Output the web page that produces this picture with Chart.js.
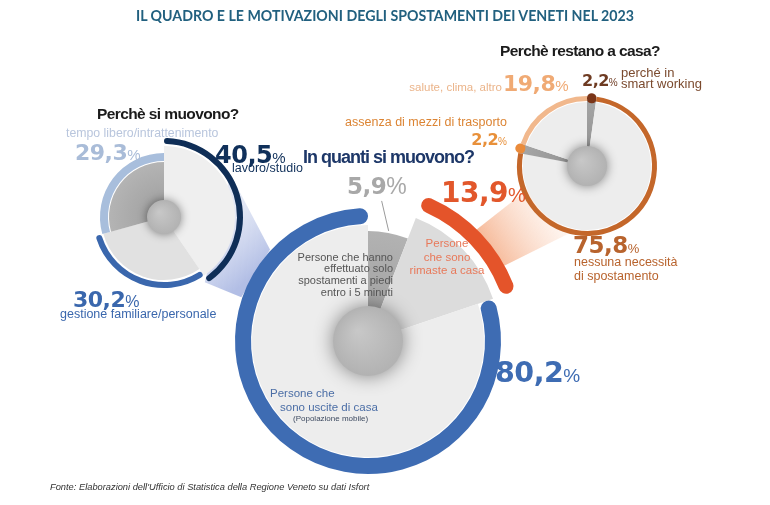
<!DOCTYPE html>
<html>
<head>
<meta charset="utf-8">
<script src="https://cdn.jsdelivr.net/npm/chart.js@4.4.1/dist/chart.umd.min.js"></script>
<style>
html,body{margin:0;padding:0;background:#fff;}
#wrap{position:relative;width:770px;height:505px;overflow:hidden;font-family:"Liberation Sans",Arial,sans-serif;}
canvas{position:absolute;left:0;top:0;}
#main{z-index:1}
#left,#right{z-index:2}
.t{position:absolute;line-height:1;white-space:nowrap;z-index:3;}
.num{font-family:"DejaVu Sans",sans-serif;font-weight:bold;letter-spacing:-0.5px}
.pc{font-family:"Liberation Sans",Arial,sans-serif;font-weight:normal;letter-spacing:0}
</style>
</head>
<body>
<div id="wrap">
<canvas id="main" width="770" height="505"></canvas>
<canvas id="left" width="770" height="505"></canvas>
<canvas id="right" width="770" height="505"></canvas>
</div>
<script>
// ================= DATI =================
const title = "IL QUADRO E LE MOTIVAZIONI DEGLI SPOSTAMENTI DEI VENETI NEL 2023";
const source = "Fonte: Elaborazioni dell'Ufficio di Statistica della Regione Veneto su dati Isfort";

// In quanti si muovono?
const mainLabels = ["Persone che hanno\neffettuato solo\nspostamenti a piedi\nentro i 5 minuti", "Persone\nche sono\nrimaste a casa", "Persone che\nsono uscite di casa"];
const mainValues = [5.9, 13.9, 80.2];
const mainNote = "(Popolazione mobile)";

// Perchè si muovono?
const leftLabels = ["lavoro/studio", "gestione familiare/personale", "tempo libero/intrattenimento"];
const leftValues = [40.5, 30.2, 29.3];

// Perchè restano a casa?
const rightLabels = ["perché in\nsmart working", "nessuna necessità\ndi spostamento", "assenza di mezzi di trasporto", "salute, clima, altro"];
const rightValues = [2.2, 75.8, 2.2, 19.8];

const W = 770, H = 505;

// ================= PLUGINS =================
// raggi diversi per ogni fetta
const radiiPlugin = {
    id: 'radii',
    afterDatasetsUpdate(chart){
        chart.data.datasets.forEach((ds, i) => {
            if(!ds.radii) return;
            chart.getDatasetMeta(i).data.forEach((arc, j) => {
                arc.innerRadius = ds.radii[j][0];
                arc.outerRadius = ds.radii[j][1];
            });
        });
    }
};

// cerchio grigio centrale
const hubPlugin = {
    id: 'hub',
    afterDatasetsDraw(chart, args, opts){
        const a = chart.getDatasetMeta(0).data[0];
        const ctx = chart.ctx;
        ctx.save();
        ctx.shadowColor = 'rgba(0,0,0,0.45)';
        ctx.shadowBlur = opts.r * 0.55;
        const g = ctx.createRadialGradient(a.x - opts.r*0.3, a.y - opts.r*0.3, 0, a.x, a.y, opts.r);
        g.addColorStop(0, '#c8c8c8');
        g.addColorStop(1, '#b2b2b2');
        ctx.fillStyle = g;
        ctx.beginPath();
        ctx.arc(a.x, a.y, opts.r, 0, Math.PI*2);
        ctx.fill();
        ctx.restore();
    }
};

function polar(c, deg, r){
    const a = (deg - 90) * Math.PI / 180;
    return {x: c.x + r*Math.cos(a), y: c.y + r*Math.sin(a)};
}
function centerOf(chart){
    const a = chart.getDatasetMeta(0).data[0];
    return {x: a.x, y: a.y};
}
function darkFill(c, r, dark, light){
    const chart = c.chart;
    if(!chart.chartArea) return dark;
    const a = chart.chartArea;
    const cx = (a.left + a.right)/2, cy = (a.top + a.bottom)/2;
    const g = chart.ctx.createRadialGradient(cx, cy, 0, cx, cy, r);
    g.addColorStop(0, dark);
    g.addColorStop(1, light);
    return g;
}

function makeDonut(id, cx, cy, labels, datasets, hubR, extra = []){
    return new Chart(document.getElementById(id), {
        type: 'doughnut',
        data: {labels, datasets},
        options: {
            responsive: false,
            animation: false,
            events: [],
            layout: {padding: {left: cx - 50, top: cy - 50, right: W - cx - 50, bottom: H - cy - 50}},
            plugins: {legend: {display: false}, tooltip: {enabled: false}, hub: {r: hubR}},
            elements: {arc: {borderWidth: 0}}
        },
        plugins: [radiiPlugin, hubPlugin, ...extra]
    });
}

// ================= PERCHÈ SI MUOVONO =================
const leftChart = makeDonut('left', 164, 217, leftLabels, [
    {   // anelli colorati
        data: leftValues, clip: false,
        backgroundColor: ['#0f2e57', '#3a67ad', '#a8bedc'],
        radii: [[73, 79], [65, 71], [56, 64]],
        borderRadius: [3, 3, 0]
    },
    {   // fette
        data: leftValues, clip: false,
        backgroundColor: c => c.dataIndex === 2 ? darkFill(c, 55, '#9c9c9c', '#b4b4b4') : (c.dataIndex === 0 ? '#efefef' : '#e1e1e1'),
        radii: [[0, 71], [0, 63], [0, 55]]
    }
], 17);

// ================= PERCHÈ RESTANO A CASA =================
const rightChart = makeDonut('right', 587, 166, rightLabels, [
    {
        data: rightValues, clip: false,
        backgroundColor: ['#7a3518', '#c4672a', '#ea8b3b', '#f1b88d'],
        radii: [[63, 73], [65, 70], [64, 74], [65, 70]],
        borderRadius: [5, 0, 5, 0]
    },
    {
        data: rightValues, clip: false,
        backgroundColor: c => (c.dataIndex === 0 || c.dataIndex === 2) ? darkFill(c, 68, '#8e8e8e', '#a6a6a6') : '#ededed',
        radii: [[0, 66], [0, 64], [0, 70], [0, 64]]
    }
], 20);

// ================= IN QUANTI SI MUOVONO =================
const conePlugin = {
    id: 'cones',
    beforeDatasetsDraw(chart){
        const ctx = chart.ctx;
        const m = centerOf(chart), l = centerOf(leftChart), r = centerOf(rightChart);
        const cone = (pts, c0, c1) => {
            const p0 = {x: (pts[0].x + pts[3].x)/2, y: (pts[0].y + pts[3].y)/2};
            const p1 = {x: (pts[1].x + pts[2].x)/2, y: (pts[1].y + pts[2].y)/2};
            const g = ctx.createLinearGradient(p0.x, p0.y, p1.x, p1.y);
            g.addColorStop(0, c0);
            g.addColorStop(1, c1);
            ctx.fillStyle = g;
            ctx.beginPath();
            pts.forEach((p, i) => i ? ctx.lineTo(p.x, p.y) : ctx.moveTo(p.x, p.y));
            ctx.closePath();
            ctx.fill();
        };
        ctx.save();
        cone([polar(l, 57, 79), polar(m, 313, 134), polar(m, 289, 134), polar(l, 148, 77)],
            'rgba(214,221,241,0.7)', 'rgba(178,190,229,1)');
        cone([polar(m, 44, 150), polar(r, 249, 62), polar(r, 195, 70), polar(m, 61, 150)],
            'rgba(245,178,142,0.95)', 'rgba(253,232,220,0.5)');
        ctx.restore();
    },
    afterDatasetsDraw(chart){
        // linea guida del 5,9%
        const arc = chart.getDatasetMeta(1).data[0];
        const mid = (arc.startAngle + arc.endAngle)/2;
        const x0 = arc.x + (arc.outerRadius + 2)*Math.cos(mid);
        const y0 = arc.y + (arc.outerRadius + 2)*Math.sin(mid);
        const ctx = chart.ctx;
        ctx.save();
        ctx.strokeStyle = '#9a9a9a';
        ctx.lineWidth = 1;
        ctx.beginPath();
        ctx.moveTo(x0, y0);
        ctx.lineTo(x0 - 7, y0 - 30);
        ctx.stroke();
        ctx.restore();
    }
};

const mainChart = makeDonut('main', 368, 341, mainLabels, [
    {
        data: mainValues, clip: false,
        backgroundColor: ['rgba(0,0,0,0)', '#e4542a', '#3e6cb3'],
        radii: [[0, 0], [141, 156], [117, 133]],
        borderRadius: [0, 8, 8]
    },
    {
        data: mainValues, clip: false,
        backgroundColor: c => c.dataIndex === 0 ? darkFill(c, 110, '#9e9e9e', '#b2b2b2') : (c.dataIndex === 1 ? '#dcdcdc' : '#ededed'),
        radii: [[0, 110], [0, 132], [0, 116]]
    }
], 35, [conePlugin]);

// ================= TESTI =================
const wrap = document.getElementById('wrap');
function put(html, x, base, size, color, opt = {}){
    const d = document.createElement('div');
    d.className = 't' + (opt.cls ? ' ' + opt.cls : '');
    d.innerHTML = html;
    d.style.fontSize = size + 'px';
    d.style.color = color;
    d.style.top = (base - 0.85*size) + 'px';
    if(opt.align === 'right') d.style.right = (W - x) + 'px';
    else if(opt.align === 'center'){ d.style.left = x + 'px'; d.style.transform = 'translateX(-50%)'; }
    else d.style.left = x + 'px';
    if(opt.bold) d.style.fontWeight = 'bold';
    if(opt.ls != null) d.style.letterSpacing = opt.ls + 'px';
    if(opt.italic) d.style.fontStyle = 'italic';
    if(opt.font) d.style.fontFamily = opt.font;
    wrap.appendChild(d);
}
function pct(v){ return v.toFixed(1).replace('.', ','); }
function num(v, x, base, size, pcSize, color, align){
    put(pct(v) + '<span class="pc" style="font-size:' + pcSize + 'px">%</span>', x, base, size, color, {cls: 'num', align});
}
function lines(txt, x, base, step, size, color, opt){
    txt.split('\n').forEach((s, i) => put(s, x, base + i*step, size, color, opt));
}

put(title, 385, 21, 14.2, '#21607f', {align: 'center', font: 'Lato', bold: true});

// sinistra
put("Perchè si muovono?", 97, 119, 15.5, '#1b1b1b', {bold: true, ls: -0.6});
put(leftLabels[2], 66, 137, 12.3, '#b9c6dd');
num(leftValues[2], 75, 161, 22, 15, '#a9bcd8');
num(leftValues[0], 215, 163, 24, 15, '#10305a');
put(leftLabels[0], 232, 173, 12.5, '#10305a');
num(leftValues[1], 73, 308, 22, 16, '#3a67ad');
put(leftLabels[1], 60, 319, 12.5, '#3a67ad');

// centro
put("In quanti si muovono?", 303, 163, 18, '#1d3768', {bold: true, ls: -1});
num(mainValues[0], 347, 195, 23, 23, '#a8a8a8');
num(mainValues[1], 441, 203, 28, 20, '#e2572b');
lines(mainLabels[0], 393, 261, 11.7, 11, '#555', {align: 'right'});
lines(mainLabels[1], 447, 248, 13.5, 11.5, '#e8795a', {align: 'center'});
put(mainLabels[2].split('\n')[0], 270, 398, 11.5, '#4b6ea6');
put(mainLabels[2].split('\n')[1], 280, 412, 11.5, '#4b6ea6');
put(mainNote, 293, 422, 8, '#3d4a60');
num(mainValues[2], 495, 383, 28.5, 19, '#3e6cb3');

// destra
put("Perchè restano a casa?", 500, 56, 15.5, '#1b1b1b', {bold: true, ls: -0.6});
put(rightLabels[3], 502, 92, 11.5, '#ebb48a', {align: 'right'});
num(rightValues[3], 503, 92, 22, 15, '#f0aa74');
num(rightValues[0], 582, 87, 16, 10, '#6e3b22');
lines(rightLabels[0], 621, 77, 11, 13, '#7b4a2e');
put(rightLabels[2], 507, 127, 12.5, '#dc8433', {align: 'right'});
num(rightValues[2], 507, 146, 16, 10, '#e8903a', 'right');
num(rightValues[1], 573, 254, 23, 13, '#b8632d');
lines(rightLabels[1], 574, 267, 14, 12.5, '#b8632d');

put(source, 50, 491, 9.3, '#333', {italic: true});
</script>
</body>
</html>
